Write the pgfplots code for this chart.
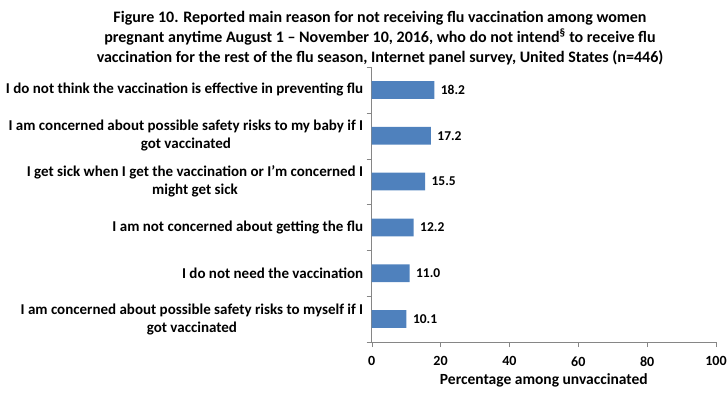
\documentclass[border=0pt]{standalone}
\usepackage{pgfplots}
\pgfplotsset{compat=1.18}
\usepackage{fontspec}
\setmainfont{Carlito}
\definecolor{barblue}{HTML}{4F81BD}
\definecolor{axgray}{HTML}{868686}
\begin{document}
\begin{tikzpicture}[x=1pt,y=1pt]
\useasboundingbox (0,0) rectangle (728,392);
\node[align=center, font=\bfseries\fontsize{16}{20}\selectfont] at (380,354)
 {Figure 10. Reported main reason for not receiving flu vaccination among women\\
  pregnant anytime August 1 -- November 10, 2016, who do not intend\textsuperscript{§} to receive flu\\
  vaccination for the rest of the flu season, Internet panel survey, United States (n=446)};
\begin{axis}[
 at={(371.7pt,50pt)}, anchor=south west,
 scale only axis, width=344.3pt, height=275pt,
 xbar, bar width=17.7pt,
 xmin=0, xmax=100, ymin=-0.5, ymax=5.5,
 xtick={0,20,...,100},
 ytick={0,...,5},
 yticklabels={{I am concerned about possible safety risks to myself if I\\got vaccinated},
  {I do not need the vaccination},
  {I am not concerned about getting the flu},
  {I get sick when I get the vaccination or I’m concerned I\\might get sick},
  {I am concerned about possible safety risks to my baby if I\\got vaccinated},
  {I do not think the vaccination is effective in preventing flu}},
 minor ytick={-0.5,0.5,...,5.5},
 axis lines*=left,
 axis line style={axgray},
 tick align=outside,
 major tick length=5pt, minor tick length=5pt,
 x tick style={axgray},
 y tick style={draw=none},
 minor y tick style={axgray, draw=axgray},
 /pgf/number format/assume math mode=true,
 xticklabel style={font=\bfseries\fontsize{14}{16}\selectfont, yshift=-6pt},
 yticklabel style={align=center, font=\bfseries\fontsize{15}{18}\selectfont},
 xlabel={Percentage among unvaccinated},
 xlabel style={font=\bfseries\fontsize{15.5}{17}\selectfont, yshift=0pt},
 nodes near coords={\pgfmathprintnumber[fixed,fixed zerofill,precision=1]{\pgfplotspointmeta}},
 nodes near coords style={font=\bfseries\fontsize{13.5}{15}\selectfont, anchor=west, xshift=3pt},
 clip=false,
]
\addplot[fill=barblue, draw=none] coordinates {
 (10.1,0) (11.0,1) (12.2,2) (15.5,3) (17.2,4) (18.2,5)};
\end{axis}
\end{tikzpicture}
\end{document}
